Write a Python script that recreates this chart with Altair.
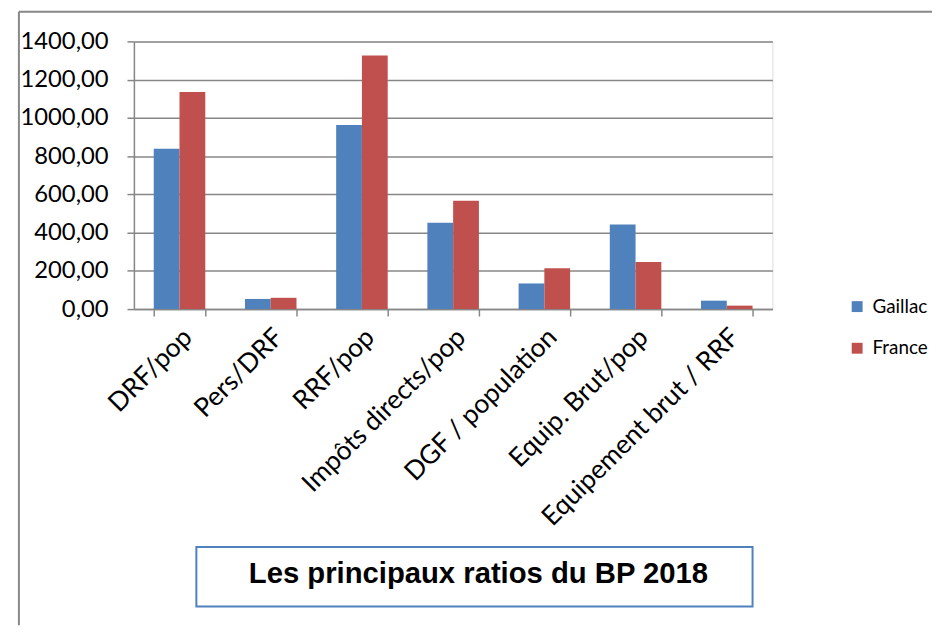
import altair as alt
import pandas as pd

categories = ["DRF/pop", "Pers/DRF", "RRF/pop", "Impôts directs/pop",
              "DGF / population", "Equip. Brut/pop", "Equipement brut / RRF"]
gaillac = [839, 53, 963, 452, 134, 442, 44]
france = [1135, 59, 1326, 566, 214, 246, 18]
series = ["Gaillac", "France"]
colors = ["#4F81BD", "#C0504D"]
y_ticks = [0, 200, 400, 600, 800, 1000, 1200, 1400]
title_text = "Les principaux ratios du BP 2018"

rows = []
for c, g, f in zip(categories, gaillac, france):
    rows.append({"cat": c, "serie": "Gaillac", "val": g})
    rows.append({"cat": c, "serie": "France", "val": f})
df = pd.DataFrame(rows)

W, H = 644, 270
PL, PT, PR, PB = 127, 31, 161, 319
GRAY = "#878787"

bars = alt.Chart(df).mark_bar().encode(
    x=alt.X("cat:N", sort=categories, title=None,
            scale=alt.Scale(paddingInner=0.435, paddingOuter=0.2175),
            axis=alt.Axis(labelAngle=-45, labelAlign="right", labelBaseline="middle",
                          labelFont="Lato", labelFontSize=26.5, labelColor="#000000",
                          labelPadding=17, labelOffset=8, tickBand="extent", tickSize=7,
                          tickColor=GRAY, tickWidth=1.5, domainColor=GRAY, domainWidth=1.5,
                          grid=False, labelOverlap=False, labelLimit=400)),
    xOffset=alt.XOffset("serie:N", sort=series, scale=alt.Scale(paddingInner=0, paddingOuter=0)),
    y=alt.Y("val:Q", title=None, scale=alt.Scale(domain=[0, 1400], nice=False),
            axis=alt.Axis(values=y_ticks,
                          labelExpr="replace(format(datum.value, '.2f'), '.', ',')",
                          labelFont="Lato", labelFontSize=24, labelColor="#000000",
                          labelPadding=19, tickSize=7, tickColor=GRAY, tickWidth=1.5,
                          domainColor=GRAY, domainWidth=1.5,
                          gridColor=GRAY, gridWidth=1.5)),
    color=alt.Color("serie:N", sort=series,
                    scale=alt.Scale(domain=series, range=colors),
                    legend=alt.Legend(title=None, orient="none", legendX=720, legendY=258,
                                      symbolType="square", symbolSize=121,
                                      symbolStrokeWidth=0, labelFont="Lato",
                                      labelFontSize=19, labelColor="#000000",
                                      labelOffset=6, rowPadding=22, padding=0)),
)

one = pd.DataFrame({"k": [0]})

frame_top = alt.Chart(one).mark_rule(color=GRAY, strokeWidth=2).encode(
    x=alt.value(-116), x2=alt.value(W + PR), y=alt.value(-30))
frame_left = alt.Chart(one).mark_rule(color=GRAY, strokeWidth=2).encode(
    x=alt.value(-116), y=alt.value(-30), y2=alt.value(H + PB))

box = alt.Chart(one).mark_rect(fill="white", stroke="#4F81BD", strokeWidth=2).encode(
    x=alt.value(63), x2=alt.value(624), y=alt.value(510), y2=alt.value(570))

title = alt.Chart(one).mark_text(font="Liberation Sans", fontWeight="bold", fontSize=29.5,
                                 align="center", baseline="alphabetic", color="#000000").encode(
    x=alt.value(347.5), y=alt.value(546.5), text=alt.value(title_text))

chart = alt.layer(frame_top, frame_left, bars, box, title).properties(
    width=W, height=H,
    autosize=alt.AutoSizeParams(type="none"),
    padding={"left": PL, "top": PT, "right": PR, "bottom": PB},
).configure_view(stroke=None).configure(background="white")

chart.save("out.html", embed_options={"renderer": "svg", "actions": False})
